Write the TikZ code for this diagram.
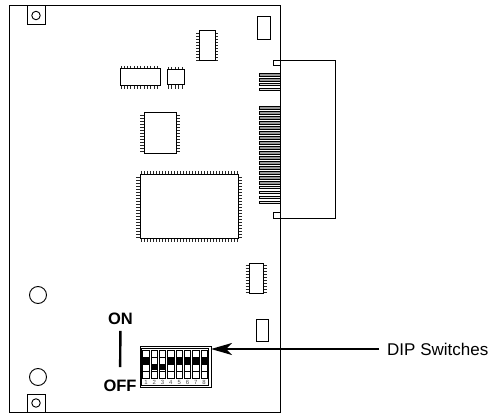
\documentclass[tikz,border=0pt]{standalone}
\usepackage{tikz}
\usepackage{xcolor}
\usepackage{fontspec}
\setmainfont{Liberation Sans}
\usetikzlibrary{arrows.meta}

\tikzset{
  part/.style={rectangle,draw=black,line width=1pt,fill=white,inner sep=0pt,outer sep=0pt},
  pin/.style={black!85,line width=0.9pt},
  hole/.style={circle,draw=black,line width=0.9pt,inner sep=0pt,outer sep=0pt},
  contact/.style={draw=black,line width=0.8pt},
  slot/.style={draw=black,line width=0.7pt,fill=white},
  lab/.style={font=\fontsize{16.5}{18}\selectfont\bfseries,inner sep=0pt,outer sep=0pt}
}

\begin{document}
\begin{tikzpicture}[x=1pt,y=-1pt]
        \useasboundingbox (0,0) rectangle (492,414);
        % board and connector
        \node[part,minimum width=271pt,minimum height=406pt] (board) at (144.5,209) {};
        \node[part,minimum width=55pt,minimum height=157pt] (card) at (307.5,139.5) {};
        \node[part,minimum width=7pt,minimum height=5pt] (tabtop) at (276.5,63.5) {};
        \node[part,minimum width=7pt,minimum height=6pt] (tabbot) at (276.5,215) {};
        \foreach \y in {73,78} \draw[contact,fill=gray!80] (259,\y) rectangle (280,\y+3);
        \foreach \y in {83,88} \draw[contact,fill=gray!25] (259,\y) rectangle (280,\y+2);
        \foreach \y in {106,111,...,181} \draw[contact,fill=gray!80] (259,\y) rectangle (280,\y+3);
        \foreach \y in {186,191,196,201} \draw[contact,fill=gray!20] (259,\y) rectangle (280,\y+2);
        % corner squares and holes
        \node[part,minimum width=18pt,minimum height=19pt] (sqtop) at (36,15.5) {};
        \node[part,minimum width=18pt,minimum height=18pt] (sqbot) at (36,403) {};
        \node[hole,minimum size=8.5pt] (holetop) at (sqtop) {};
        \node[hole,minimum size=8.5pt] (holebot) at (sqbot) {};
        \node[hole,minimum size=17pt] (hole1) at (38,295) {};
        \node[hole,minimum size=17pt] (hole2) at (38,377) {};
        % plain rectangles
        \node[part,minimum width=13pt,minimum height=23pt] (recttop) at (263.5,28.5) {};
        \node[part,minimum width=12pt,minimum height=22pt] (rectbot) at (262,330) {};
        % chips
        \foreach \y in {33,36,...,60} \draw[pin] (196,\y) -- (218,\y);
        \node[part,minimum width=16pt,minimum height=30pt] (chiptop) at (207,46) {};
        \foreach \x in {121,124.3,...,160} \draw[pin] (\x,66) -- (\x,89);
        \node[part,minimum width=40pt,minimum height=17pt] (chipwide) at (140,77.5) {};
        \foreach \x in {168,171.5,...,182} \draw[pin] (\x,67) -- (\x,89);
        \node[part,minimum width=17pt,minimum height=15pt] (chipsmall) at (175.5,77.5) {};
        \foreach \y in {115,118,...,153} \draw[pin] (140,\y) -- (180,\y);
        \node[part,minimum width=32pt,minimum height=41pt] (chipmid) at (160,133.5) {};
        \foreach \x in {141,144,...,237} \draw[pin] (\x,171) -- (\x,242);
        \foreach \y in {177,180,...,237} \draw[pin] (136,\y) -- (242,\y);
        \node[part,minimum width=98pt,minimum height=63pt] (chipbig) at (189,206.5) {};
        \foreach \y in {265,268,...,292} \draw[pin] (245.5,\y) -- (266.5,\y);
        \node[part,minimum width=14pt,minimum height=30pt] (chiplow) at (256,278) {};
        % dip switch block
        \node[part,minimum width=71pt,minimum height=41pt] (dip) at (175.5,366.5) {};
        \draw[line width=0.6pt] (141.5,348) rectangle (208.5,385);
        \foreach \n/\t in {1/1,2/2,3/2,4/1,5/1,6/1,7/1,8/1} {
          \draw[slot] (134.5+8.3*\n,350) rectangle (140.9+8.3*\n,378);
          \foreach \y in {357,364,371} \draw[line width=0.6pt] (134.5+8.3*\n,\y) -- (140.9+8.3*\n,\y);
          \fill[black] (134.5+8.3*\n,350.5+6.6*\t) rectangle (140.9+8.3*\n,357.1+6.6*\t);
          \node[inner sep=0pt,text=black!70,font=\fontsize{6}{6}\selectfont] (num\n) at (137.7+8.3*\n,382.3) {\n};
        }
        % labels
        \node[lab] (on) at (120.5,319) {ON};
        \node[lab] (off) at (120,386) {OFF};
        \draw[line width=2.4pt,shorten <=6pt,shorten >=13pt] (on) -- (off);
        \node[anchor=west,inner sep=0pt,font=\fontsize{17}{19}\selectfont] (dipsw) at (379,349) {\hspace{8pt}DIP Switches};
        \draw[line width=2.4pt,-{Stealth[length=21pt,width=12pt,inset=6pt]}] (dipsw.west) -- (dip.east |- dipsw.west);
    \end{tikzpicture}
\end{document}
